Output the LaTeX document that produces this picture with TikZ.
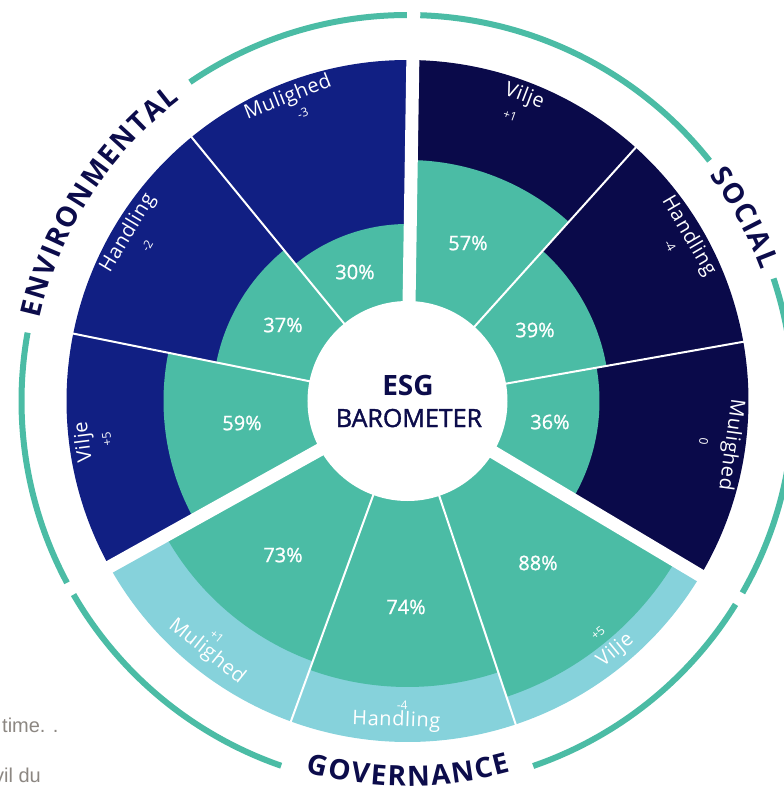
\documentclass[tikz,border=0pt]{standalone}
\usepackage{fontspec}
\setmainfont{Open Sans}
\newfontfamily\grayfont{Liberation Sans}
\newfontfamily\labfont{Open Sans}[LetterSpace=3]
\newfontfamily\semifont{Open Sans}[FakeBold=1]
\newfontfamily\semifontb{Open Sans}[FakeBold=1.6]
\usetikzlibrary{decorations.text}
\definecolor{envdark}{RGB}{17,31,131}
\definecolor{socdark}{RGB}{10,10,74}
\definecolor{govlight}{RGB}{134,210,219}
\definecolor{tealc}{RGB}{75,188,165}
\definecolor{navytext}{RGB}{12,12,75}
\definecolor{graytext}{RGB}{140,135,130}
\newcommand\grpfont{\fontsize{28}{28}\selectfont\bfseries\kern1.6pt}
\newcommand\sector[4]{\fill[#1] (0,0) -- (#2:#4pt) arc[start angle=#2, end angle=#3, radius=#4pt] -- cycle;}
\tikzset{
  grouptext/.style={decorate, decoration={text along path, text={|\grpfont|#1}, text align={align=center}, text color=navytext}},
  seglab/.style={font=\labfont\fontsize{20}{20}\selectfont, text=white, inner sep=0pt},
  segnum/.style={font=\fontsize{12}{12}\selectfont, text=white, inner sep=0pt},
  pct/.style={font=\semifont\fontsize{20}{20}\selectfont, text=white, inner sep=0pt},
  ring/.style={draw=tealc, line width=6pt},
  thinsep/.style={draw=white, line width=2pt},
  gapsep/.style={draw=white, line width=13pt},
  gtext/.style={font=\grayfont\fontsize{20}{20}\selectfont, text=graytext, inner sep=0pt}
}
\begin{document}
\begin{tikzpicture}[x=1pt,y=1pt]
\useasboundingbox (-407.5,-392) rectangle (376.5,401);
\clip (-407.5,-392) rectangle (376.5,401);
% environmental
\sector{envdark}{89.1}{129.3}{341}
\sector{tealc}{89.1}{129.3}{177}
\sector{envdark}{129.3}{168.6}{341}
\sector{tealc}{129.3}{168.6}{195}
\sector{envdark}{168.6}{209.1}{341}
\sector{tealc}{168.6}{209.1}{244}
% social
\sector{socdark}{48}{89.1}{341}
\sector{tealc}{48}{89.1}{241}
\sector{socdark}{10}{48}{341}
\sector{tealc}{10}{48}{202}
\sector{socdark}{-30.8}{10}{341}
\sector{tealc}{-30.8}{10}{192}
% governance
\sector{govlight}{209.1}{250}{341}
\sector{tealc}{209.1}{250}{277}
\sector{govlight}{250}{288.5}{341}
\sector{tealc}{250}{288.5}{286}
\sector{govlight}{288.5}{329.2}{341}
\sector{tealc}{288.5}{329.2}{312}
% separators
\coordinate (c) at (0,0);
\foreach \a [count=\i] in {129.3,168.6,48,10,250,288.5}{
  \coordinate (s\i) at (\a:342pt);
  \draw[thinsep] (c) -- (s\i);
}
\foreach \a [count=\i] in {89.1,209.1,329.2}{
  \coordinate (g\i) at (\a:346pt);
  \draw[gapsep] (c) -- (g\i);
}
\fill[white] (c) circle[radius=100pt];
% outer rings
\draw[ring] (90.1:386pt) arc[start angle=90.1, end angle=124.3, radius=386pt];
\draw[ring] (169.8:386pt) arc[start angle=169.8, end angle=208.1, radius=386pt];
\draw[ring] (210.1:386pt) arc[start angle=210.1, end angle=250.9, radius=386pt];
\draw[ring] (289:386pt) arc[start angle=289, end angle=328.2, radius=386pt];
\draw[ring] (330.2:386pt) arc[start angle=330.2, end angle=378.5, radius=386pt];
\draw[ring] (38.5:386pt) arc[start angle=38.5, end angle=88.1, radius=386pt];
% group labels along arcs
\path[grouptext=ENVIRONMENTAL] (187.3:377pt) arc[start angle=187.3, end angle=107.3, radius=377pt];
\path[grouptext=SOCIAL] (58.7:377pt) arc[start angle=58.7, end angle=-1.3, radius=377pt];
\path[grouptext=GOVERNANCE] (235:385pt) arc[start angle=235, end angle=305, radius=385pt];
% centre
\node[font=\bfseries\fontsize{28}{28}\selectfont, text=navytext, anchor=base, inner sep=0pt] (esg) at (0.5,6) {ESG};
\node[font=\semifontb\fontsize{25}{25}\selectfont, text=navytext, anchor=base, inner sep=0pt] (baro) at (1.5,-26) {BAROMETER};
% percentages
\node[pct] (p1) at (-52.5,129) {30\%};
\node[pct] (p2) at (-124.5,76) {37\%};
\node[pct] (p3) at (-165.5,-22) {59\%};
\node[pct] (p4) at (60.5,158) {57\%};
\node[pct] (p5) at (127.5,71) {39\%};
\node[pct] (p6) at (142.5,-21) {36\%};
\node[pct] (p7) at (-124.5,-154) {73\%};
\node[pct] (p8) at (-1.5,-206) {74\%};
\node[pct] (p9) at (130.5,-162) {88\%};
% segment labels (top half)
\foreach \t/\nm/\tn/\rn/\nu [count=\i] in {111.5/Mulighed/110/306/-3, 149/Handling/149.2/303/-2, 187.2/Vilje/187.2/303/+5, 69/Vilje/70.2/303/+1, 30.4/Handling/30.6/305/-4, -7.7/Mulighed/-7.7/299/0}{
  \node[seglab, rotate=\t-90] (ln\i) at (\t:326pt) {\nm};
  \node[segnum, rotate=\tn-90] (lv\i) at (\tn:\rn pt) {\nu};
}
% segment labels (governance)
\foreach \t/\r/\nm/\tn/\rn/\nu [count=\i] in {231.3/321/Mulighed/231/303/+1, 268/320/Handling/269/304/-4, 309.8/325/Vilje/309.4/300/+5}{
  \node[seglab, rotate=\t+90] (gn\i) at (\t:\r pt) {\nm};
  \node[segnum, rotate=\tn+90] (gv\i) at (\tn:\rn pt) {\nu};
}
% background text fragments
\node[gtext, anchor=base west] (bt1) at (-405.5,-331) {time. .};
\node[gtext, anchor=base east] (bt2) at (-366.5,-381) {vil du};
\end{tikzpicture}
\end{document}
